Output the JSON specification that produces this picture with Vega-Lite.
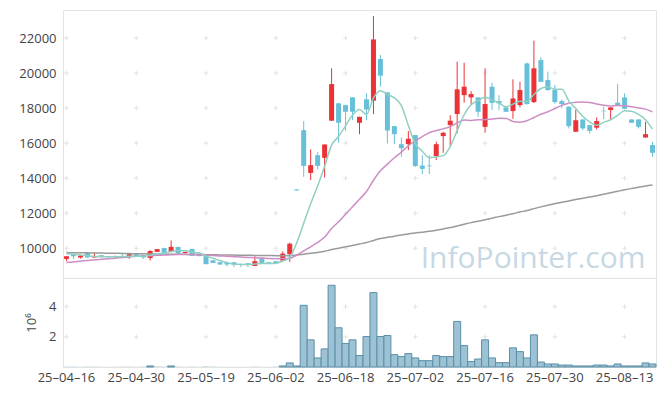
{
 "$schema": "https://vega.github.io/schema/vega-lite/v6.json",
 "padding": {"left": 18, "top": 9, "right": 10, "bottom": 5},
 "background": "white",
 "spacing": 0,
 "bounds": "flush",
 "config": {
  "view": {"stroke": "#e3e3e3"},
  "font": "Open Sans",
  "axis": {"labelFont": "Open Sans", "labelFontSize": 13, "labelColor": "#444", "domain": false, "ticks": false, "grid": false, "titleFont": "Open Sans", "titleFontWeight": "normal", "titleFontSize": 13, "titleColor": "#444"}
 },
 "datasets": {
  "p": [
   {"d":"25-04-16","o":9390,"h":9550,"l":9260,"c":9540,"v":0.02,"m5":9690,"m20":9180,"m100":9750},
   {"d":"25-04-17","o":9640,"h":9680,"l":9390,"c":9540,"v":0.02,"m5":9660,"m20":9220,"m100":9745},
   {"d":"25-04-18","o":9470,"h":9590,"l":9410,"c":9580,"v":0.01,"m5":9620,"m20":9260,"m100":9740},
   {"d":"25-04-21","o":9730,"h":9750,"l":9450,"c":9470,"v":0.02,"m5":9570,"m20":9300,"m100":9735},
   {"d":"25-04-22","o":9470,"h":9770,"l":9450,"c":9540,"v":0.02,"m5":9534,"m20":9340,"m100":9730},
   {"d":"25-04-23","o":9600,"h":9610,"l":9470,"c":9490,"v":0.01,"m5":9524,"m20":9370,"m100":9722},
   {"d":"25-04-24","o":9540,"h":9550,"l":9430,"c":9500,"v":0.01,"m5":9516,"m20":9400,"m100":9715},
   {"d":"25-04-25","o":9500,"h":9580,"l":9430,"c":9540,"v":0.01,"m5":9508,"m20":9430,"m100":9710},
   {"d":"25-04-28","o":9560,"h":9700,"l":9470,"c":9520,"v":0.02,"m5":9518,"m20":9470,"m100":9702},
   {"d":"25-04-29","o":9540,"h":9670,"l":9390,"c":9660,"v":0.02,"m5":9542,"m20":9505,"m100":9694},
   {"d":"25-04-30","o":9660,"h":9680,"l":9500,"c":9510,"v":0.01,"m5":9546,"m20":9535,"m100":9686},
   {"d":"25-05-02","o":9620,"h":9630,"l":9390,"c":9470,"v":0.02,"m5":9540,"m20":9555,"m100":9680},
   {"d":"25-05-07","o":9440,"h":9890,"l":9300,"c":9840,"v":0.07,"m5":9600,"m20":9575,"m100":9675},
   {"d":"25-05-08","o":9790,"h":9960,"l":9780,"c":9950,"v":0.03,"m5":9686,"m20":9595,"m100":9670},
   {"d":"25-05-09","o":10010,"h":10030,"l":9730,"c":9740,"v":0.02,"m5":9702,"m20":9612,"m100":9665},
   {"d":"25-05-12","o":9790,"h":10450,"l":9780,"c":10080,"v":0.07,"m5":9816,"m20":9630,"m100":9660},
   {"d":"25-05-13","o":10070,"h":10090,"l":9700,"c":9710,"v":0.02,"m5":9864,"m20":9640,"m100":9655},
   {"d":"25-05-14","o":9730,"h":9800,"l":9700,"c":9790,"v":0.01,"m5":9854,"m20":9640,"m100":9650},
   {"d":"25-05-15","o":9960,"h":9970,"l":9560,"c":9570,"v":0.02,"m5":9778,"m20":9635,"m100":9645},
   {"d":"25-05-16","o":9690,"h":9700,"l":9540,"c":9550,"v":0.01,"m5":9740,"m20":9630,"m100":9640},
   {"d":"25-05-19","o":9590,"h":9600,"l":9080,"c":9090,"v":0.03,"m5":9542,"m20":9607,"m100":9632},
   {"d":"25-05-20","o":9310,"h":9320,"l":9150,"c":9160,"v":0.02,"m5":9432,"m20":9588,"m100":9626},
   {"d":"25-05-21","o":9200,"h":9210,"l":9060,"c":9070,"v":0.01,"m5":9288,"m20":9563,"m100":9620},
   {"d":"25-05-22","o":9160,"h":9170,"l":8970,"c":9070,"v":0.01,"m5":9188,"m20":9543,"m100":9614},
   {"d":"25-05-23","o":9200,"h":9210,"l":8930,"c":9070,"v":0.01,"m5":9092,"m20":9519,"m100":9608},
   {"d":"25-05-26","o":9100,"h":9110,"l":8930,"c":9050,"v":0.01,"m5":9084,"m20":9497,"m100":9602},
   {"d":"25-05-27","o":9140,"h":9150,"l":8930,"c":9070,"v":0.01,"m5":9066,"m20":9476,"m100":9596},
   {"d":"25-05-28","o":8990,"h":9540,"l":8980,"c":9260,"v":0.02,"m5":9104,"m20":9462,"m100":9590},
   {"d":"25-05-29","o":9450,"h":9460,"l":9150,"c":9160,"v":0.01,"m5":9122,"m20":9444,"m100":9585},
   {"d":"25-05-30","o":9200,"h":9210,"l":9090,"c":9110,"v":0.01,"m5":9130,"m20":9416,"m100":9580},
   {"d":"25-06-02","o":9260,"h":9270,"l":9130,"c":9140,"v":0.02,"m5":9148,"m20":9398,"m100":9576},
   {"d":"25-06-04","o":9290,"h":9820,"l":9280,"c":9690,"v":0.07,"m5":9272,"m20":9409,"m100":9573},
   {"d":"25-06-05","o":9660,"h":10320,"l":9220,"c":10260,"v":0.27,"m5":9472,"m20":9430,"m100":9570},
   {"d":"25-06-09","o":13360,"h":13360,"l":13300,"c":13300,"v":0.07,"m5":10306,"m20":9599,"m100":9607},
   {"d":"25-06-10","o":16740,"h":17260,"l":14080,"c":14700,"v":4.09,"m5":11424,"m20":9847,"m100":9658},
   {"d":"25-06-11","o":14300,"h":15640,"l":13890,"c":14740,"v":1.8,"m5":12544,"m20":10080,"m100":9710},
   {"d":"25-06-12","o":15310,"h":15500,"l":14490,"c":14700,"v":0.6,"m5":13546,"m20":10329,"m100":9761},
   {"d":"25-06-13","o":15160,"h":15930,"l":14040,"c":15920,"v":1.2,"m5":14678,"m20":10636,"m100":9824},
   {"d":"25-06-16","o":17280,"h":20270,"l":17270,"c":19370,"v":5.42,"m5":15886,"m20":11126,"m100":9921},
   {"d":"25-06-17","o":18270,"h":18300,"l":16020,"c":17160,"v":2.6,"m5":16378,"m20":11506,"m100":9997},
   {"d":"25-06-18","o":18170,"h":18200,"l":16700,"c":17790,"v":1.56,"m5":16988,"m20":11941,"m100":10079},
   {"d":"25-06-19","o":18610,"h":18620,"l":17310,"c":17790,"v":1.8,"m5":17606,"m20":12373,"m100":10161},
   {"d":"25-06-20","o":17160,"h":17510,"l":16510,"c":17500,"v":0.76,"m5":17922,"m20":12794,"m100":10240},
   {"d":"25-06-23","o":18500,"h":18840,"l":17310,"c":17920,"v":2.02,"m5":17632,"m20":13237,"m100":10323},
   {"d":"25-06-24","o":18420,"h":23260,"l":17660,"c":21920,"v":4.93,"m5":18584,"m20":13879,"m100":10446},
   {"d":"25-06-25","o":20800,"h":21030,"l":19220,"c":19850,"v":2.02,"m5":18996,"m20":14419,"m100":10549},
   {"d":"25-06-26","o":18900,"h":18910,"l":15980,"c":16720,"v":2.09,"m5":18782,"m20":14802,"m100":10620},
   {"d":"25-06-27","o":16970,"h":16980,"l":15940,"c":16510,"v":0.82,"m5":18584,"m20":15164,"m100":10689},
   {"d":"25-06-30","o":15940,"h":16320,"l":15220,"c":15710,"v":0.69,"m5":18142,"m20":15492,"m100":10750},
   {"d":"25-07-01","o":15940,"h":16690,"l":15600,"c":16250,"v":0.89,"m5":17008,"m20":15849,"m100":10817},
   {"d":"25-07-02","o":16460,"h":16470,"l":14650,"c":14690,"v":0.6,"m5":15976,"m20":16126,"m100":10868},
   {"d":"25-07-03","o":14720,"h":15310,"l":14230,"c":14530,"v":0.42,"m5":15538,"m20":16368,"m100":10917},
   {"d":"25-07-04","o":14720,"h":15310,"l":14230,"c":14680,"v":0.42,"m5":15172,"m20":16589,"m100":10968},
   {"d":"25-07-07","o":15260,"h":16080,"l":15030,"c":15940,"v":0.76,"m5":15218,"m20":16720,"m100":11031},
   {"d":"25-07-08","o":16400,"h":16650,"l":15450,"c":16590,"v":0.69,"m5":15286,"m20":16814,"m100":11101},
   {"d":"25-07-09","o":17030,"h":17600,"l":15790,"c":17280,"v":0.69,"m5":15804,"m20":16941,"m100":11178},
   {"d":"25-07-10","o":17660,"h":20650,"l":16550,"c":19070,"v":3.02,"m5":16712,"m20":17160,"m100":11273},
   {"d":"25-07-11","o":18740,"h":20590,"l":18310,"c":19220,"v":1.42,"m5":17620,"m20":17325,"m100":11369},
   {"d":"25-07-14","o":18610,"h":18970,"l":18170,"c":18800,"v":0.36,"m5":18192,"m20":17296,"m100":11461},
   {"d":"25-07-15","o":18610,"h":18620,"l":17500,"c":17790,"v":0.53,"m5":18432,"m20":17328,"m100":11543},
   {"d":"25-07-16","o":16930,"h":20270,"l":16590,"c":18230,"v":1.8,"m5":18622,"m20":17350,"m100":11629},
   {"d":"25-07-17","o":19220,"h":19450,"l":17890,"c":18300,"v":0.6,"m5":18468,"m20":17375,"m100":11716},
   {"d":"25-07-18","o":18400,"h":18740,"l":17900,"c":18270,"v":0.29,"m5":18278,"m20":17414,"m100":11803},
   {"d":"25-07-21","o":18040,"h":18050,"l":17780,"c":17790,"v":0.29,"m5":18076,"m20":17407,"m100":11885},
   {"d":"25-07-22","o":17830,"h":19640,"l":17390,"c":18550,"v":1.27,"m5":18228,"m20":17239,"m100":11974},
   {"d":"25-07-23","o":18170,"h":19500,"l":18040,"c":19030,"v":1.02,"m5":18388,"m20":17198,"m100":12068},
   {"d":"25-07-24","o":20550,"h":20600,"l":18200,"c":18230,"v":0.6,"m5":18374,"m20":17273,"m100":12154},
   {"d":"25-07-25","o":18340,"h":21850,"l":18290,"c":20270,"v":2.13,"m5":18774,"m20":17461,"m100":12261},
   {"d":"25-07-28","o":20740,"h":20900,"l":19480,"c":19500,"v":0.33,"m5":19116,"m20":17651,"m100":12360},
   {"d":"25-07-29","o":19600,"h":20080,"l":19000,"c":19030,"v":0.2,"m5":19212,"m20":17790,"m100":12454},
   {"d":"25-07-30","o":19030,"h":19310,"l":18250,"c":18340,"v":0.2,"m5":19074,"m20":17972,"m100":12542},
   {"d":"25-07-31","o":18400,"h":18490,"l":17990,"c":18230,"v":0.13,"m5":19074,"m20":18157,"m100":12628},
   {"d":"25-08-01","o":18080,"h":18090,"l":16840,"c":16970,"v":0.13,"m5":18414,"m20":18272,"m100":12702},
   {"d":"25-08-04","o":16650,"h":17900,"l":16640,"c":17310,"v":0.07,"m5":17976,"m20":18340,"m100":12779},
   {"d":"25-08-05","o":17350,"h":17360,"l":16740,"c":16840,"v":0.07,"m5":17538,"m20":18353,"m100":12851},
   {"d":"25-08-06","o":17030,"h":17040,"l":16550,"c":16700,"v":0.07,"m5":17210,"m20":18324,"m100":12922},
   {"d":"25-08-07","o":16880,"h":17470,"l":16780,"c":17260,"v":0.13,"m5":17016,"m20":18233,"m100":12999},
   {"d":"25-08-08","o":17850,"h":18080,"l":17370,"c":17820,"v":0.13,"m5":17186,"m20":18163,"m100":13081},
   {"d":"25-08-11","o":17890,"h":18050,"l":17350,"c":18040,"v":0.07,"m5":17332,"m20":18125,"m100":13165},
   {"d":"25-08-12","o":18310,"h":19370,"l":18120,"c":18130,"v":0.2,"m5":17590,"m20":18142,"m100":13250},
   {"d":"25-08-13","o":18610,"h":18840,"l":17950,"c":17960,"v":0.07,"m5":17842,"m20":18129,"m100":13334},
   {"d":"25-08-14","o":17350,"h":17360,"l":17150,"c":17160,"v":0.07,"m5":17822,"m20":18072,"m100":13410},
   {"d":"25-08-18","o":17350,"h":17360,"l":16840,"c":16930,"v":0.07,"m5":17644,"m20":18005,"m100":13483},
   {"d":"25-08-19","o":16320,"h":17220,"l":16310,"c":16510,"v":0.27,"m5":17338,"m20":17941,"m100":13552},
   {"d":"25-08-20","o":15890,"h":16080,"l":15220,"c":15450,"v":0.2,"m5":16802,"m20":17786,"m100":13611}
  ],
  "g1": [
   {"d":"25-04-16","y":10000},{"d":"25-04-16","y":12000},{"d":"25-04-16","y":14000},{"d":"25-04-16","y":16000},{"d":"25-04-16","y":18000},{"d":"25-04-16","y":20000},{"d":"25-04-16","y":22000},
   {"d":"25-04-30","y":10000},{"d":"25-04-30","y":12000},{"d":"25-04-30","y":14000},{"d":"25-04-30","y":16000},{"d":"25-04-30","y":18000},{"d":"25-04-30","y":20000},{"d":"25-04-30","y":22000},
   {"d":"25-05-19","y":10000},{"d":"25-05-19","y":12000},{"d":"25-05-19","y":14000},{"d":"25-05-19","y":16000},{"d":"25-05-19","y":18000},{"d":"25-05-19","y":20000},{"d":"25-05-19","y":22000},
   {"d":"25-06-02","y":10000},{"d":"25-06-02","y":12000},{"d":"25-06-02","y":14000},{"d":"25-06-02","y":16000},{"d":"25-06-02","y":18000},{"d":"25-06-02","y":20000},{"d":"25-06-02","y":22000},
   {"d":"25-06-18","y":10000},{"d":"25-06-18","y":12000},{"d":"25-06-18","y":14000},{"d":"25-06-18","y":16000},{"d":"25-06-18","y":18000},{"d":"25-06-18","y":20000},{"d":"25-06-18","y":22000},
   {"d":"25-07-02","y":10000},{"d":"25-07-02","y":12000},{"d":"25-07-02","y":14000},{"d":"25-07-02","y":16000},{"d":"25-07-02","y":18000},{"d":"25-07-02","y":20000},{"d":"25-07-02","y":22000},
   {"d":"25-07-16","y":10000},{"d":"25-07-16","y":12000},{"d":"25-07-16","y":14000},{"d":"25-07-16","y":16000},{"d":"25-07-16","y":18000},{"d":"25-07-16","y":20000},{"d":"25-07-16","y":22000},
   {"d":"25-07-30","y":10000},{"d":"25-07-30","y":12000},{"d":"25-07-30","y":14000},{"d":"25-07-30","y":16000},{"d":"25-07-30","y":18000},{"d":"25-07-30","y":20000},{"d":"25-07-30","y":22000},
   {"d":"25-08-13","y":10000},{"d":"25-08-13","y":12000},{"d":"25-08-13","y":14000},{"d":"25-08-13","y":16000},{"d":"25-08-13","y":18000},{"d":"25-08-13","y":20000},{"d":"25-08-13","y":22000}
  ],
  "g2": [
   {"d":"25-04-16","v":2},{"d":"25-04-16","v":4},{"d":"25-04-30","v":2},{"d":"25-04-30","v":4},
   {"d":"25-05-19","v":2},{"d":"25-05-19","v":4},{"d":"25-06-02","v":2},{"d":"25-06-02","v":4},
   {"d":"25-06-18","v":2},{"d":"25-06-18","v":4},{"d":"25-07-02","v":2},{"d":"25-07-02","v":4},
   {"d":"25-07-16","v":2},{"d":"25-07-16","v":4},{"d":"25-07-30","v":2},{"d":"25-07-30","v":4},
   {"d":"25-08-13","v":2},{"d":"25-08-13","v":4}
  ],
  "wm": [{"t": "InfoPointer.com"}]
 },
 "vconcat": [
  {
   "width": 593,
   "height": 268,
   "encoding": {
    "x": {"field": "d", "type": "ordinal", "bandPosition": 0.5, "scale": {"type": "band", "paddingInner": 0, "paddingOuter": 0}, "axis": null}
   },
   "layer": [
    {
     "data": {"name": "wm"},
     "mark": {"type": "text", "font": "Open Sans", "fontSize": 30, "color": "#c6d8e4", "align": "right", "baseline": "alphabetic"},
     "encoding": {
      "x": {"datum": "25-08-19", "type": "ordinal", "bandPosition": 0.5},
      "y": {"datum": 8860, "type": "quantitative"},
      "text": {"field": "t"}
     }
    },
    {
     "data": {"name": "g1"},
     "mark": {"type": "point", "shape": "M-1,0H1M0,-1V1", "filled": false, "stroke": "#e2e2e2", "strokeWidth": 1, "size": 22, "opacity": 1},
     "encoding": {
      "y": {"field": "y", "type": "quantitative", "scale": {"domain": [8300, 23600], "nice": false, "zero": false}, "axis": {"values": [10000, 12000, 14000, 16000, 18000, 20000, 22000], "format": "d", "title": null, "labelPadding": 7}}
     }
    },
    {
     "data": {"name": "p"},
     "mark": {"type": "rule", "strokeWidth": 1},
     "encoding": {
      "y": {"field": "l", "type": "quantitative"},
      "y2": {"field": "h"},
      "color": {"condition": {"test": "datum.c > datum.o", "value": "#eb3237"}, "value": "#68c0d8"}
     }
    },
    {
     "data": {"name": "p"},
     "mark": {"type": "bar", "size": 5},
     "encoding": {
      "y": {"field": "o", "type": "quantitative"},
      "y2": {"field": "c"},
      "color": {"condition": {"test": "datum.c > datum.o", "value": "#eb3237"}, "value": "#68c0d8"}
     }
    },
    {
     "data": {"name": "p"},
     "mark": {"type": "line", "color": "#9a9a9a", "strokeWidth": 1.5, "interpolate": "monotone"},
     "encoding": {"y": {"field": "m100", "type": "quantitative"}}
    },
    {
     "data": {"name": "p"},
     "mark": {"type": "line", "color": "#cc8ec4", "strokeWidth": 1.5, "interpolate": "monotone"},
     "encoding": {"y": {"field": "m20", "type": "quantitative"}}
    },
    {
     "data": {"name": "p"},
     "mark": {"type": "line", "color": "#8fd0c2", "strokeWidth": 1.5, "interpolate": "monotone"},
     "encoding": {"y": {"field": "m5", "type": "quantitative"}}
    }
   ]
  },
  {
   "width": 593,
   "height": 89,
   "encoding": {
    "x": {"field": "d", "type": "ordinal", "bandPosition": 0.5, "scale": {"type": "band", "paddingInner": 0, "paddingOuter": 0},
      "axis": {"values": ["25-04-16","25-04-30","25-05-19","25-06-02","25-06-18","25-07-02","25-07-16","25-07-30","25-08-13"], "labelAngle": 0, "labelPadding": 4, "title": null, "labelExpr": "replace(replace(datum.label, '-', '–'), '-', '–')"}}
   },
   "layer": [
    {
     "data": {"name": "g2"},
     "mark": {"type": "point", "shape": "M-1,0H1M0,-1V1", "filled": false, "stroke": "#e2e2e2", "strokeWidth": 1, "size": 22, "opacity": 1},
     "encoding": {
      "y": {"field": "v", "type": "quantitative", "scale": {"domain": [0, 5.9], "nice": false}, "axis": {"values": [2, 4], "title": "10⁶", "titlePadding": 10, "labelPadding": 7}}
     }
    },
    {
     "data": {"name": "p"},
     "mark": {"type": "bar", "fill": "#9cc2d3", "stroke": "#5b8fa9", "strokeWidth": 1},
     "encoding": {
      "x": {"field": "d", "type": "ordinal", "scale": {"type": "band", "paddingInner": 0, "paddingOuter": 0}},
      "y": {"field": "v", "type": "quantitative"},
      "strokeOpacity": {"condition": {"test": "datum.v >= 0.05", "value": 1}, "value": 0}
     }
    }
   ]
  }
 ]
}
